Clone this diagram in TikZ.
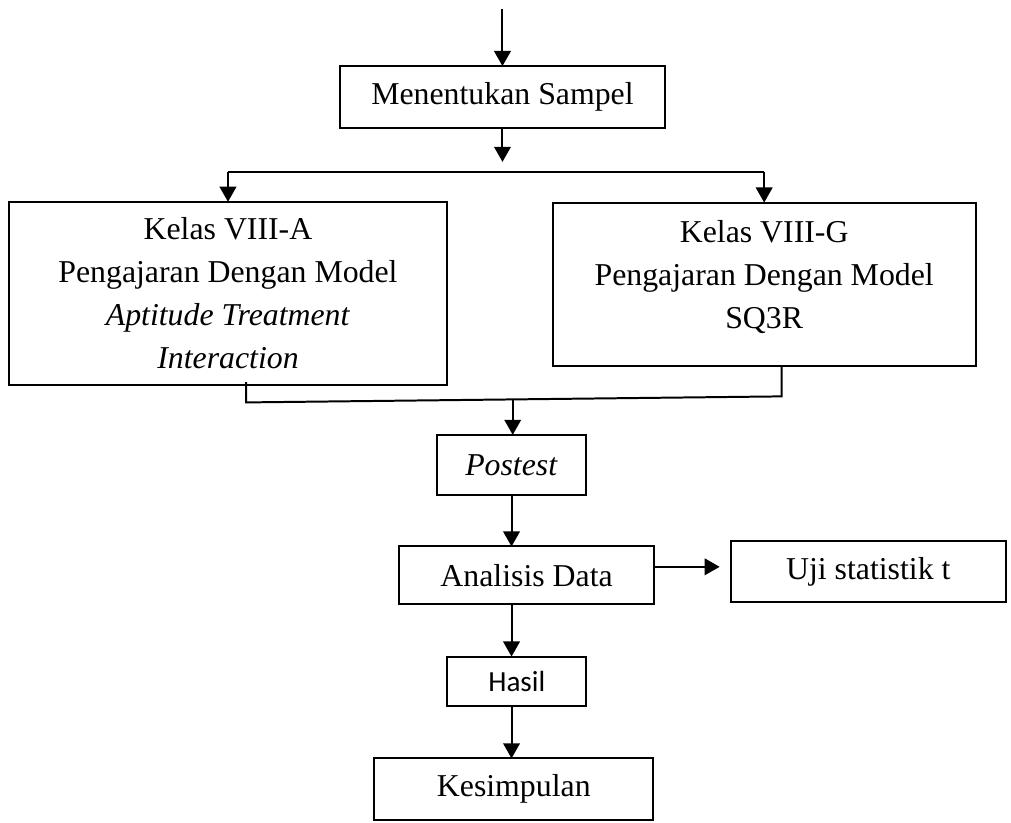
\documentclass[tikz,border=0pt]{standalone}
\usepackage{fontspec}
\setmainfont{Liberation Serif}
\newfontfamily\calibrifont{Carlito}
\usepackage{tikz}
\usetikzlibrary{arrows.meta,positioning,calc}

\begin{document}
\begin{tikzpicture}[
  font=\fontsize{12}{16.2}\selectfont,
  box/.style={draw,line width=0.75pt,align=center,inner sep=0pt,outer sep=0pt},
  arr/.style={-{Triangle[length=0.2cm,width=0.22cm]},line width=0.75pt}
]
\useasboundingbox (-6.663,1.286) rectangle (6.743,-9.614);
\node[box,minimum width=4.31cm,minimum height=0.82cm] (sampel) {Menentukan Sampel};
\node[box,minimum width=5.81cm,minimum height=2.43cm,below=0.98cm of sampel,xshift=-3.64cm] (kelasA) {Kelas VIII-A\\Pengajaran Dengan Model\\\textit{Aptitude Treatment}\\\textit{Interaction}};
\node[box,minimum width=5.61cm,minimum height=2.17cm,below=0.99cm of sampel,xshift=3.47cm] (kelasG) {Kelas VIII-G\\Pengajaran Dengan Model\\SQ3R\\[-9pt]\mbox{}};
\node[box,minimum width=1.98cm,minimum height=0.80cm,below=4.07cm of sampel,xshift=0.12cm] (postest) {\textit{Postest}};
\node[box,minimum width=3.38cm,minimum height=0.76cm,below=0.68cm of postest,xshift=0.2cm] (analisis) {Analisis Data};
\node[box,minimum width=3.64cm,minimum height=0.80cm,right=1.02cm of analisis,yshift=0.05cm] (uji) {Uji statistik t};
\node[box,minimum width=1.84cm,minimum height=0.66cm,below=0.70cm of analisis,xshift=-0.13cm,font=\calibrifont\fontsize{11}{13}\selectfont] (hasil) {Hasil};
\node[box,minimum width=3.70cm,minimum height=0.82cm,below=0.69cm of hasil,xshift=-0.04cm] (kesimpulan) {Kesimpulan};
\coordinate[above=0.76cm of sampel] (start);
\coordinate[below=0.58cm of sampel] (split);
\coordinate (jA) at ($(kelasA.south)+(0.24,-0.23)$);
\coordinate (jG) at ($(kelasG.south)+(0.23,-0.40)$);
\coordinate (jP) at ($(jA)!0.498!(jG)$);
\draw[arr] (start) -- (sampel);
\draw[arr,shorten >=0.13cm] (sampel) -- (split);
\draw[line width=0.75pt] (kelasA.north |- split) -- (kelasG.north |- split);
\draw[arr] (kelasA.north |- split) -- (kelasA);
\draw[arr] (kelasG.north |- split) -- (kelasG);
\draw[line width=0.75pt] ($(kelasA.south)+(0.24,0.04)$) -- (jA) -- (jG) -- ($(kelasG.south)+(0.23,0)$);
\draw[arr] (jP) -- (jP |- postest.north);
\draw[arr] (postest) -- (postest |- analisis.north);
\draw[arr,shorten >=0.15cm] ([yshift=0.11cm]analisis.east) -- ([yshift=0.11cm]analisis.east -| uji.west);
\draw[arr] (postest |- analisis.south) -- (postest |- hasil.north);
\draw[arr] (postest |- hasil.south) -- (postest |- kesimpulan.north);
\end{tikzpicture}
\end{document}
